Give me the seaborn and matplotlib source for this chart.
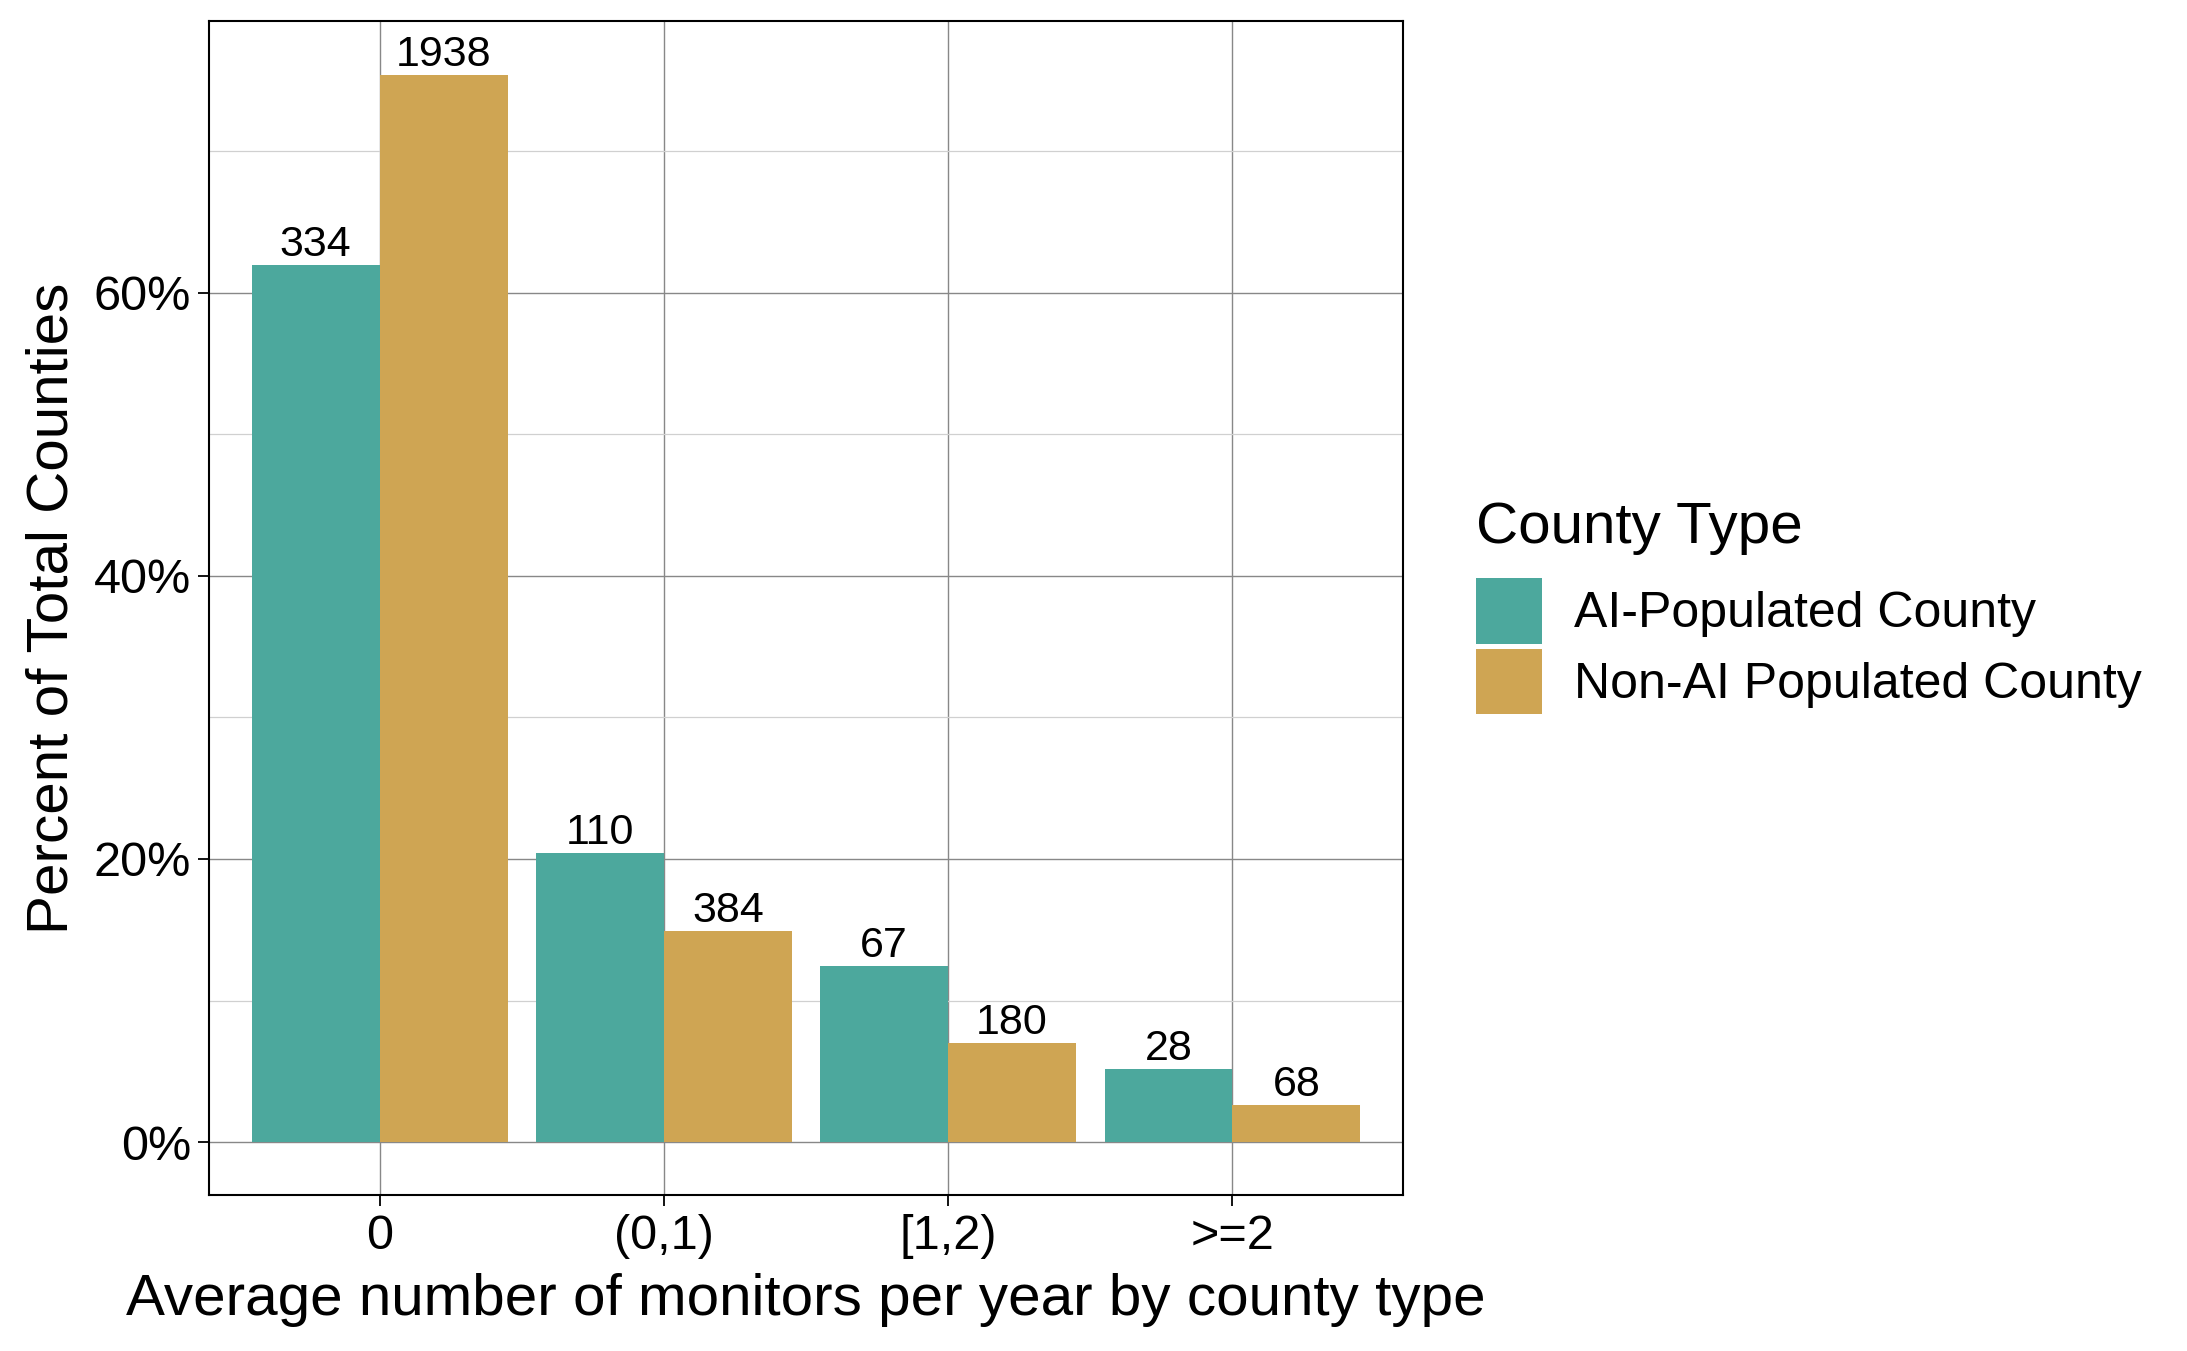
"""
plot.py
-------
Monitors per year by county type, grouped bar chart (percent of counties).
"""

import pandas as pd
import numpy as np
import matplotlib
matplotlib.use("Agg")
import matplotlib.pyplot as plt
import matplotlib.ticker as mticker
from matplotlib.patches import Patch
import seaborn as sns

# ── Data ─────────────────────────────────────────────────────────────
bins = ["0", "(0,1)", "[1,2)", ">=2"]
county_types = ["AI-Populated County", "Non-AI Populated County"]
ai_counts = [334, 110, 67, 28]
non_ai_counts = [1938, 384, 180, 68]

COLORS = ["#4CA89D", "#CFA553"]

# ── Global style ─────────────────────────────────────────────────────
sns.set_theme(style="white")
plt.rcParams.update({
    "font.family": ["Liberation Sans", "DejaVu Sans"],
    "text.color": "black",
    "axes.labelcolor": "black",
    "xtick.color": "black",
    "ytick.color": "black",
    "axes.edgecolor": "black",
    "axes.linewidth": 1.5,
})

rows = []
for name, counts in zip(county_types, [ai_counts, non_ai_counts]):
    total = sum(counts)
    for b, c in zip(bins, counts):
        rows.append({"bin": b, "type": name, "count": c, "pct": c / total * 100})
df = pd.DataFrame(rows)

fig = plt.figure(figsize=(21.87, 13.51), dpi=100)
ax = fig.add_axes([209 / 2187, 1 - 1195 / 1351, (1403 - 209) / 2187, (1195 - 21) / 1351])

sns.barplot(data=df, x="bin", y="pct", hue="type", order=bins,
            hue_order=county_types, palette=COLORS, width=0.9,
            saturation=1, linewidth=0, legend=False, ax=ax)

# count labels on top of the bars
for container, counts in zip(ax.containers, [ai_counts, non_ai_counts]):
    ax.bar_label(container, labels=[str(c) for c in counts],
                 padding=0, fontsize=31, color="black")

ax.set_xlim(-0.6, 3.6)
ax.set_ylim(-3.74, 79.2)
ax.yaxis.set_major_locator(mticker.MultipleLocator(20))
ax.yaxis.set_minor_locator(mticker.MultipleLocator(10))
ax.yaxis.set_major_formatter(mticker.FuncFormatter(lambda v, p: f"{v:.0f}%"))

ax.set_axisbelow(True)
ax.grid(True, which="major", color="#888888", linewidth=1.0)
ax.grid(True, which="minor", axis="y", color="#d0d0d0", linewidth=0.9)
for s in ax.spines.values():
    s.set_visible(True)
    s.set_color("black")
    s.set_linewidth(1.5)

ax.tick_params(axis="both", which="major", length=8, width=1.3,
               color="black", labelsize=35, labelcolor="black",
               left=True, bottom=True)
ax.tick_params(axis="x", pad=6)
ax.tick_params(axis="y", pad=5)
ax.tick_params(axis="both", which="minor", length=0)

ax.set_xlabel("Average number of monitors per year by county type",
              fontsize=42, labelpad=10)
ax.set_ylabel("Percent of Total Counties", fontsize=42, labelpad=10)

handles = [Patch(facecolor=c, edgecolor="none") for c in COLORS]
leg = fig.legend(handles, county_types, title="County Type",
                 loc="center left", bbox_to_anchor=(1456 / 2187, 0.55),
                 frameon=False, fontsize=36, title_fontsize=42,
                 handlelength=1.32, handleheight=1.65, labelspacing=0.1,
                 handletextpad=0.64, borderaxespad=0, alignment="left")
leg._legend_box.sep = 16  # gap between legend title and keys

fig.savefig("out.png", dpi=100)
plt.close(fig)
